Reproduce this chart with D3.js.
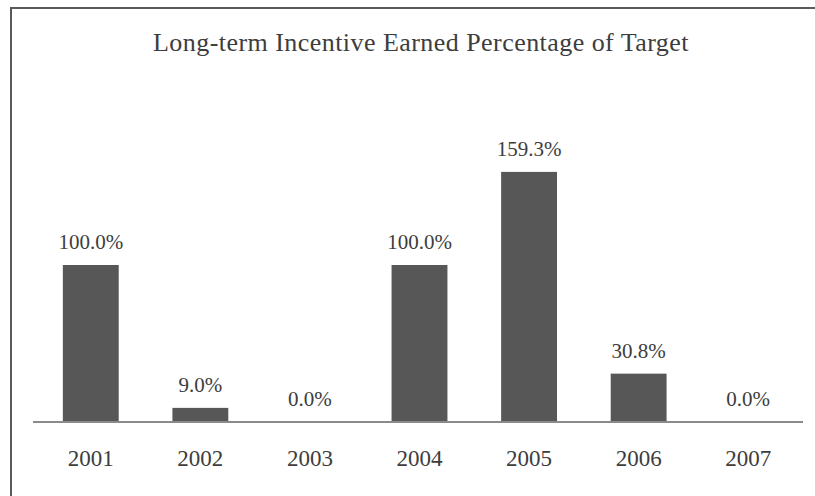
<!DOCTYPE html>
<html>
<head>
<meta charset="utf-8">
<script src="https://cdn.jsdelivr.net/npm/d3@7"></script>
<style>
  body { margin: 0; background: #fff; }
  svg text { font-family: "Liberation Serif", Tinos, "Times New Roman", Times, "DejaVu Serif", serif; }
</style>
</head>
<body>
<div id="chart"></div>
<script>
var years = ["2001", "2002", "2003", "2004", "2005", "2006", "2007"];
var earned = [100.0, 9.0, 0.0, 100.0, 159.3, 30.8, 0.0];
var chartTitle = "Long-term Incentive Earned Percentage of Target";

var w = 815;
var h = 496;
var serif = "'Liberation Serif', Tinos, 'Times New Roman', Times, serif";

var svg = d3.select("#chart")
    .append("svg")
    .attr("width", w)
    .attr("height", h)
    .style("font-family", serif);

// frame, right and bottom run off the picture
svg.append("rect")
    .attr("x", 11)
    .attr("y", 8)
    .attr("width", 900)
    .attr("height", 600)
    .attr("fill", "none")
    .attr("stroke", "#5a5a5a")
    .attr("stroke-width", 2);

svg.append("text")
    .attr("x", 421)
    .attr("y", 51)
    .attr("text-anchor", "middle")
    .style("font-family", serif)
    .style("font-size", "26px")
    .style("letter-spacing", "0.45px")
    .attr("fill", "#3d3d3d")
    .text(chartTitle);

var x = d3.scaleBand()
    .domain(years)
    .range([36, 803])
    .paddingInner(0.49)
    .paddingOuter(0.245);

var y = d3.scaleLinear()
    .domain([0, 100])
    .range([422, 265]);

svg.selectAll("rect.bar")
    .data(earned)
    .enter()
    .append("rect")
    .attr("class", "bar")
    .attr("x", function(d, i) { return x(years[i]); })
    .attr("width", x.bandwidth())
    .attr("y", function(d) { return y(d); })
    .attr("height", function(d) { return y(0) - y(d); })
    .attr("fill", "#575757");

svg.selectAll("text.val")
    .data(earned)
    .enter()
    .append("text")
    .attr("class", "val")
    .attr("x", function(d, i) { return x(years[i]) + x.bandwidth() / 2; })
    .attr("y", function(d) { return y(d) - 16; })
    .attr("text-anchor", "middle")
    .style("font-family", serif)
    .style("font-size", "21px")
    .attr("fill", "#3d3d3d")
    .text(function(d) { return d.toFixed(1) + "%"; });

// baseline
svg.append("line")
    .attr("x1", 33)
    .attr("x2", 803)
    .attr("y1", y(0))
    .attr("y2", y(0))
    .attr("stroke", "#8a8a8a")
    .attr("stroke-width", 2);

var xAxis = d3.axisBottom(x).tickSize(0).tickPadding(0);

var gx = svg.append("g")
    .attr("transform", "translate(0," + y(0) + ")")
    .call(xAxis)
    .attr("font-family", null);

gx.select(".domain").remove();
gx.selectAll("text")
    .style("font-family", serif)
    .style("font-size", "23px")
    .attr("fill", "#3d3d3d")
    .attr("dy", 0)
    .attr("y", 44);
</script>
</body>
</html>
